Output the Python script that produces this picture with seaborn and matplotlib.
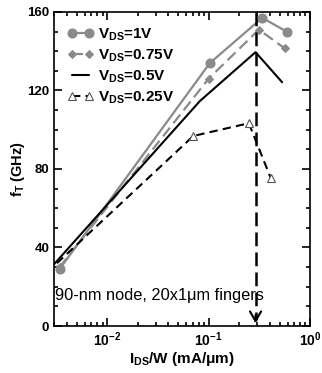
import matplotlib
matplotlib.use("Agg")
import matplotlib.pyplot as plt
import seaborn as sns
import pandas as pd

# ---- data ----
x_1v = [0.0034, 0.103, 0.338, 0.586]
y_1v = [29, 134, 157, 150]
x_075v = [0.0034, 0.100, 0.313, 0.56]
y_075v = [30, 126, 151, 141.5]
x_05v = [0.003, 0.082, 0.29, 0.53]
y_05v = [31.5, 114.6, 139.5, 124.2]
x_025v = [0.0032, 0.0706, 0.249, 0.408]
y_025v = [32, 96.8, 103.3, 75.6]
peak_x = 0.29
labels = [r"$\mathbf{V_{DS}}$=1V", r"$\mathbf{V_{DS}}$=0.75V",
          r"$\mathbf{V_{DS}}$=0.5V", r"$\mathbf{V_{DS}}$=0.25V"]
note = "90-nm node, 20x1\u03bcm fingers"
xlabel = r"$\mathbf{I_{DS}}$/W (mA/" + "\u03bc" + "m)"
ylabel = r"$\mathbf{f_T}$ (GHz)"

sns.set_style("ticks", {"axes.edgecolor": "black", "text.color": "black",
                        "xtick.color": "black", "ytick.color": "black",
                        "axes.labelcolor": "black"})
plt.rcParams["font.family"] = ["Liberation Sans", "DejaVu Sans"]
plt.rcParams["mathtext.fontset"] = "custom"
plt.rcParams["mathtext.rm"] = "Liberation Sans"
plt.rcParams["mathtext.bf"] = "Liberation Sans:bold"
plt.rcParams["mathtext.it"] = "Liberation Sans:italic"

fig = plt.figure(figsize=(3.22, 3.73), dpi=100)
ax = fig.add_axes([0.168, 0.126, 0.795, 0.842])

gray = "#8a8a8a"
d1 = pd.DataFrame({"x": x_1v, "y": y_1v})
d2 = pd.DataFrame({"x": x_075v, "y": y_075v})
d3 = pd.DataFrame({"x": x_05v, "y": y_05v})
d4 = pd.DataFrame({"x": x_025v, "y": y_025v})

sns.lineplot(data=d1, x="x", y="y", ax=ax, color=gray, lw=1.6, marker="o",
             markersize=6.5, markeredgecolor=gray, label=labels[0], sort=False)
sns.lineplot(data=d2, x="x", y="y", ax=ax, color=gray, lw=1.6, marker="D",
             markersize=4.5, markeredgecolor=gray, dashes=(5, 2.5),
             label=labels[1], sort=False)
sns.lineplot(data=d3, x="x", y="y", ax=ax, color="black", lw=1.5,
             label=labels[2], sort=False)
sns.lineplot(data=d4, x="x", y="y", ax=ax, color="black", lw=1.5, marker="^",
             markersize=6, markerfacecolor="white", markeredgecolor="#555555",
             markeredgewidth=0.8, dashes=(4, 2.5), markevery=[1, 2, 3],
             label=labels[3], sort=False)

# vertical dashed line with arrow at peak
ax.plot([peak_x, peak_x], [160, 3], color="black", lw=1.8, dashes=(5.5, 2.5))
ax.annotate("", xy=(peak_x, 0), xytext=(peak_x, 7),
            arrowprops=dict(arrowstyle="->,head_length=0.7,head_width=0.4",
                            color="black", lw=1.5))

ax.set_xscale("log")
ax.set_xlim(0.003, 1)
ax.set_ylim(0, 160)
ax.set_yticks([0, 40, 80, 120, 160])
ax.set_yticks(range(0, 161, 10), minor=True)

ax.tick_params(which="both", direction="in", top=True, right=True,
               width=1.2, colors="black")
ax.tick_params(axis="y", labelsize=9.5)
ax.tick_params(axis="x", labelsize=10)
ax.tick_params(which="major", length=6)
ax.tick_params(which="minor", length=3)
for lab in ax.get_xticklabels() + ax.get_yticklabels():
    lab.set_fontweight("bold")
for s in ax.spines.values():
    s.set_linewidth(1.2)
    s.set_color("black")

ax.set_xlabel(xlabel, fontsize=11, fontweight="bold")
ax.xaxis.set_label_coords(0.5, -0.075)
ax.set_ylabel(ylabel, fontsize=10.5, fontweight="bold")
ax.yaxis.set_label_coords(-0.105, 0.5)

ax.text(0.00305, 15.5, note, fontsize=11.8, ha="left", va="center",
        transform=ax.transData)

leg = ax.legend(loc="upper left", frameon=False, numpoints=2, handlelength=1.7,
                handletextpad=0.3, labelspacing=0.3,
                bbox_to_anchor=(0.0, 0.997),
                prop={"weight": "bold", "size": 11})

fig.savefig("out.png", dpi=100)
